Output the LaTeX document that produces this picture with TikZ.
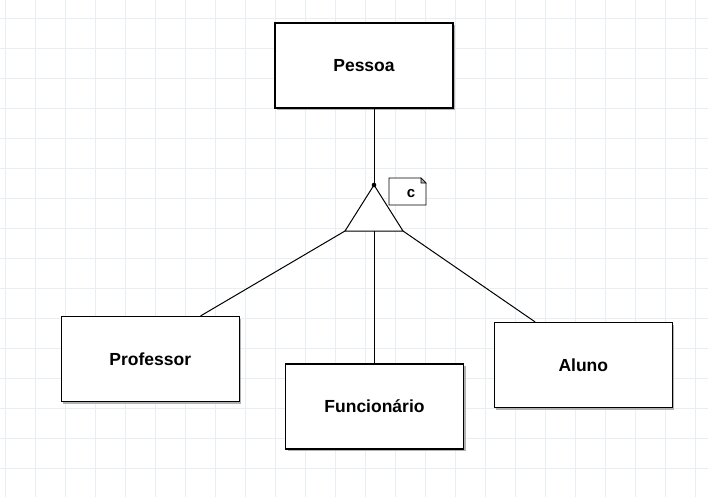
\documentclass[tikz,border=0pt]{standalone}
\usepackage{fontspec}
\setmainfont{Liberation Sans}
\usetikzlibrary{shadows}
\definecolor{gridcol}{HTML}{E9EEF3}
\tikzset{
  entity/.style={draw,line width=1.3pt,fill=white,minimum width=178pt,minimum height=85pt,
    font=\bfseries\fontsize{17.5}{20}\selectfont,
    drop shadow={shadow xshift=2pt,shadow yshift=-2pt,fill=gray!60,opacity=1}},
  link/.style={line width=1pt},
  gridline/.style={gridcol,line width=0.7pt}
}
\begin{document}
\begin{tikzpicture}[x=1pt,y=-1pt]
\useasboundingbox (0,0) rectangle (708,497);
%background grid
\foreach \gx in {5.7,35.7,...,708} \draw[gridline](\gx,0)--(\gx,497);
\foreach \gy in {18.3,48.3,...,497} \draw[gridline](0,\gy)--(708,\gy);
%entities
\node[entity](pessoa) at (364,65.4){Pessoa};
\node[entity](prof) at (150.3,359){Professor};
\node[entity](func) at (374.5,406.5){Funcionário};
\node[entity](aluno) at (583.3,365){Aluno};
%specialisation triangle
\coordinate (apex) at (374,185);
\coordinate (baseL) at (345,231);
\coordinate (baseM) at (374,231);
\coordinate (baseR) at (403,231);
\draw[link,fill=white](apex)--(baseL)--(baseR)--cycle;
\fill (apex) circle (2.3pt);
\draw[link](apex |- pessoa.south)--(apex);
\draw[link](baseL)--([xshift=50.4pt]prof.north);
\draw[link](baseM)--(baseM |- func.north);
\draw[link](baseR)--([xshift=-48.3pt]aluno.north);
%note with folded corner
\draw[line width=0.9pt,fill=white](389,178)--(421,178)--(426,183)--(426,205)--(389,205)--cycle;
\draw[line width=0.6pt,fill=gray!60](421,178)--(421,183)--(426,183)--cycle;
\node[font=\bfseries\fontsize{15}{17}\selectfont](compl) at (411,194){c};
\end{tikzpicture}
\end{document}
